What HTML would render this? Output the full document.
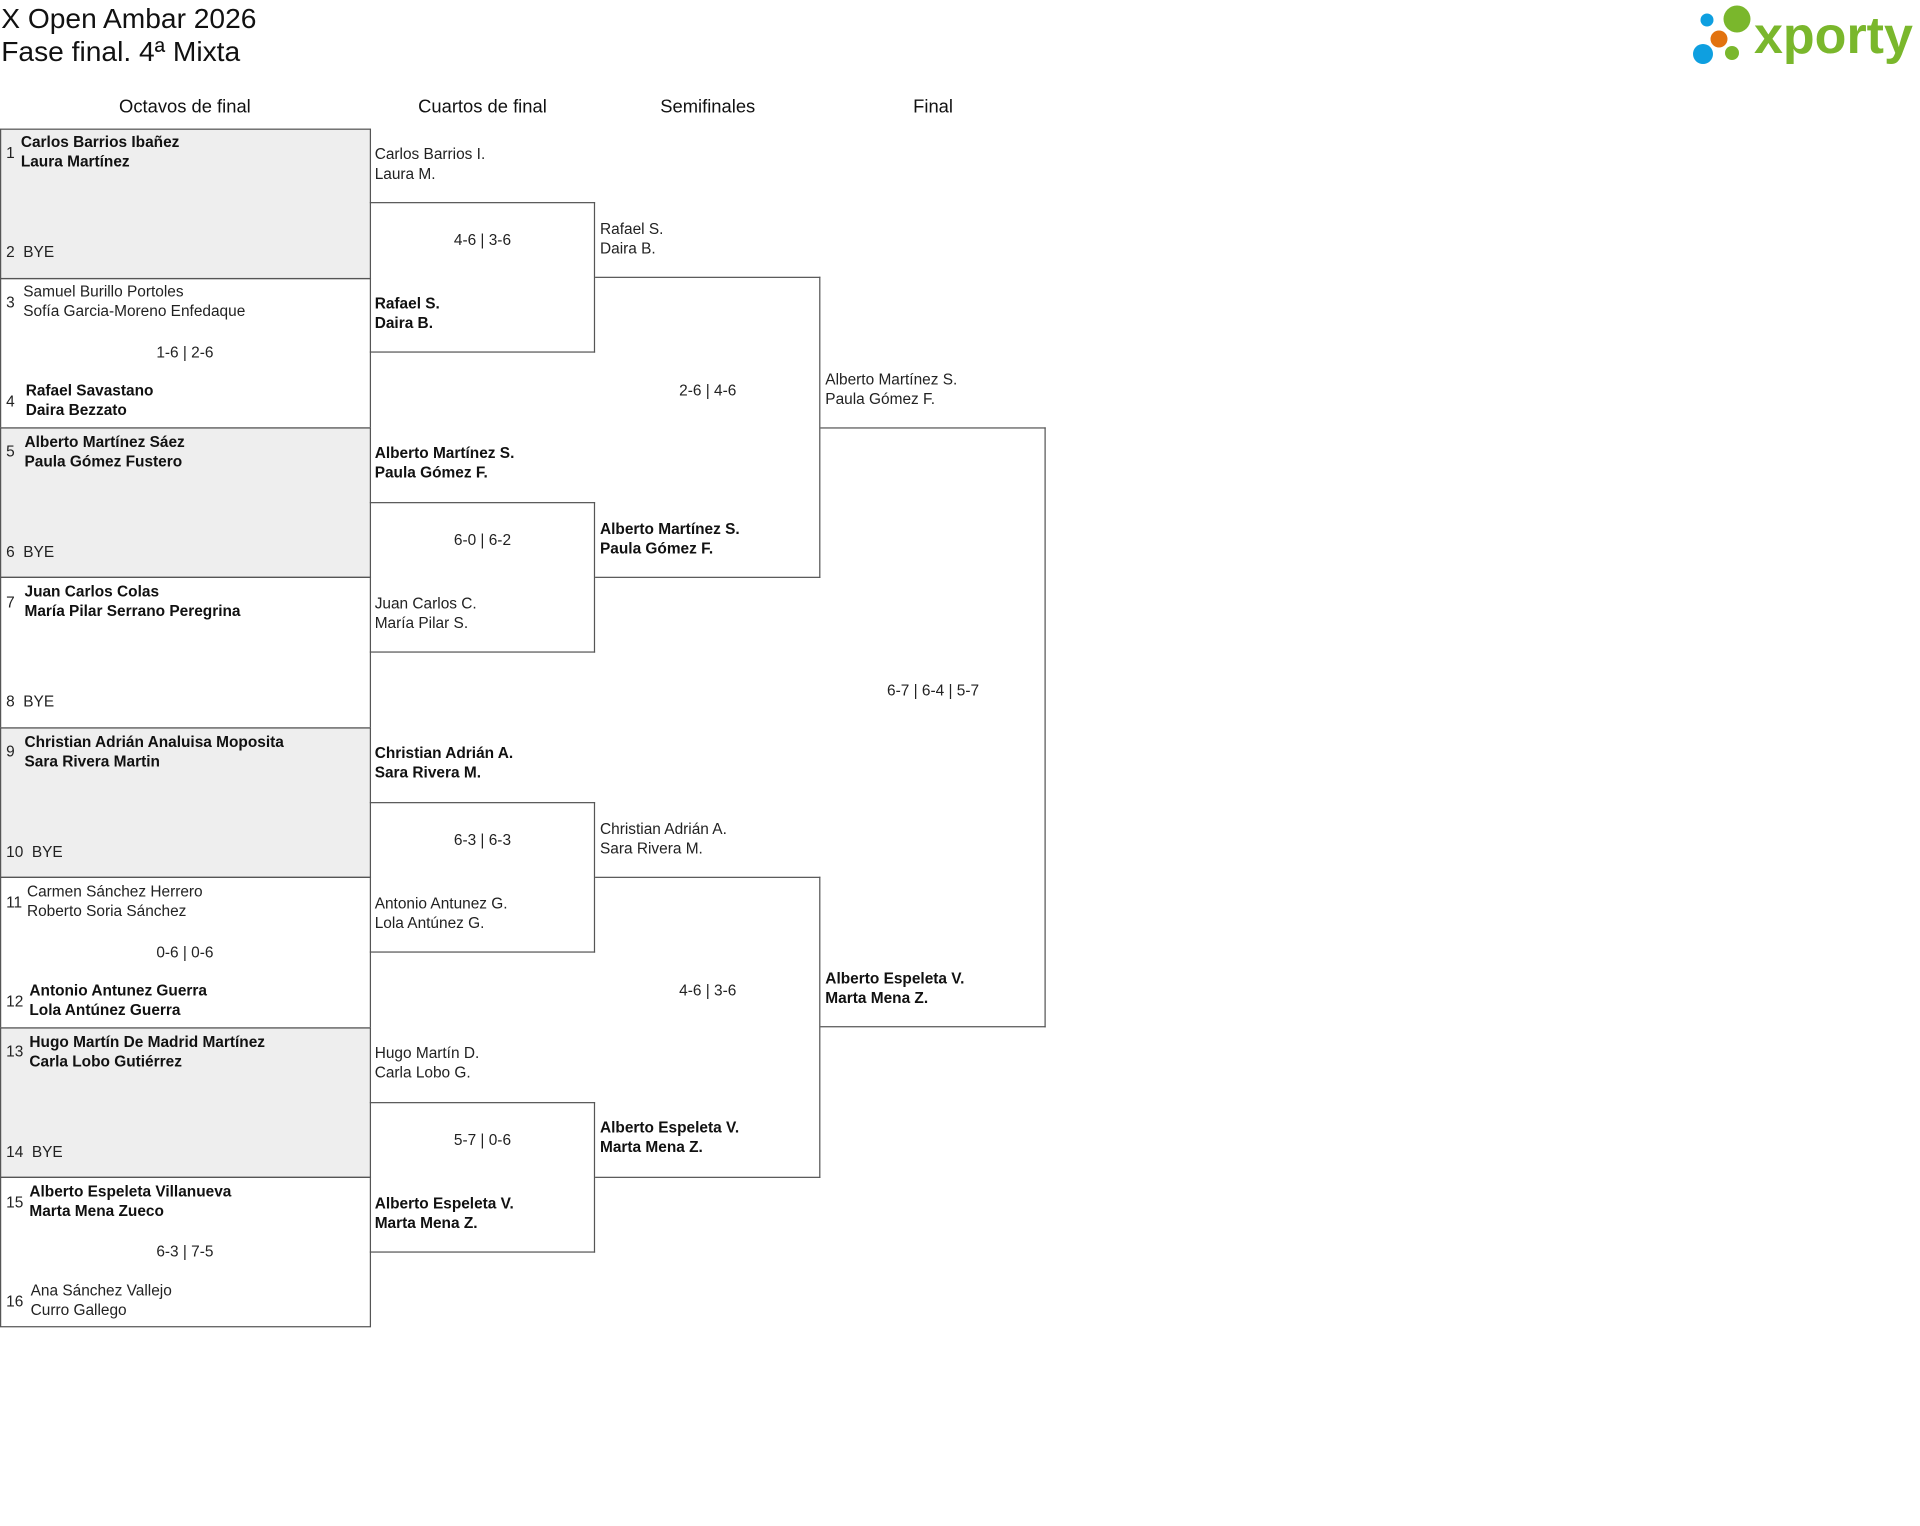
<!DOCTYPE html>
<html><head><meta charset="utf-8"><style>
html,body{margin:0;padding:0;background:#fff;}
body{width:1920px;height:1525px;overflow:hidden;position:relative;font-family:"Liberation Sans",sans-serif;color:#222;}
#c{position:absolute;left:0;top:0;width:1568px;height:1246px;transform:scale(1.22449);transform-origin:0 0;}
.a{position:absolute;white-space:nowrap;}
.t{font-size:23px;line-height:22px;color:#111;}
.h{font-size:15px;line-height:16px;transform:translateX(-50%);color:#111;}
.b{position:absolute;border:1px solid #555;box-sizing:border-box;}
.r{border-left:none;}
.g{background:#eeeeee;}
.n{font-size:12.6px;line-height:15.5px;}
.bo{font-weight:bold;color:#111;}
.s{font-size:12.6px;line-height:14px;transform:translateX(-50%);}
.num{font-size:12.6px;line-height:14px;}
</style></head><body>
<div id="c">
<div class="a t" style="left:1px;top:4px">X Open Ambar 2026</div>
<div class="a t" style="left:1px;top:31px">Fase final. 4ª Mixta</div>
<div class="a h" style="left:151px;top:80px">Octavos de final</div>
<div class="a h" style="left:394px;top:80px">Cuartos de final</div>
<div class="a h" style="left:578px;top:80px">Semifinales</div>
<div class="a h" style="left:762px;top:80px">Final</div>

<div class="b g" style="left:0;top:105px;width:303px;height:123px"></div>
<div class="b" style="left:0;top:227px;width:303px;height:123px"></div>
<div class="b g" style="left:0;top:349px;width:303px;height:123px"></div>
<div class="b" style="left:0;top:471px;width:303px;height:124px"></div>
<div class="b g" style="left:0;top:594px;width:303px;height:123px"></div>
<div class="b" style="left:0;top:716px;width:303px;height:124px"></div>
<div class="b g" style="left:0;top:839px;width:303px;height:123px"></div>
<div class="b" style="left:0;top:961px;width:303px;height:123px"></div>

<div class="b r" style="left:302px;top:165px;width:184px;height:123px"></div>
<div class="b r" style="left:302px;top:410px;width:184px;height:123px"></div>
<div class="b r" style="left:302px;top:655px;width:184px;height:123px"></div>
<div class="b r" style="left:302px;top:900px;width:184px;height:123px"></div>

<div class="b r" style="left:486px;top:226px;width:184px;height:246px"></div>
<div class="b r" style="left:486px;top:716px;width:184px;height:246px"></div>

<div class="b r" style="left:670px;top:349px;width:184px;height:490px"></div>

<div class="a num" style="left:5px;top:118px">1</div>
<div class="a n bo" style="left:17px;top:109px">Carlos Barrios Ibañez<br>Laura Martínez</div>
<div class="a num" style="left:5px;top:199px">2&nbsp;&nbsp;BYE</div>

<div class="a num" style="left:5px;top:240px">3</div>
<div class="a n" style="left:19px;top:231px">Samuel Burillo Portoles<br>Sofía Garcia-Moreno Enfedaque</div>
<div class="a s" style="left:151px;top:281px">1-6 | 2-6</div>
<div class="a num" style="left:5px;top:321px">4</div>
<div class="a n bo" style="left:21px;top:312px">Rafael Savastano<br>Daira Bezzato</div>

<div class="a num" style="left:5px;top:362px">5</div>
<div class="a n bo" style="left:20px;top:354px">Alberto Martínez Sáez<br>Paula Gómez Fustero</div>
<div class="a num" style="left:5px;top:444px">6&nbsp;&nbsp;BYE</div>

<div class="a num" style="left:5px;top:485px">7</div>
<div class="a n bo" style="left:20px;top:476px">Juan Carlos Colas<br>María Pilar Serrano Peregrina</div>
<div class="a num" style="left:5px;top:566px">8&nbsp;&nbsp;BYE</div>

<div class="a num" style="left:5px;top:607px">9</div>
<div class="a n bo" style="left:20px;top:599px">Christian Adrián Analuisa Moposita<br>Sara Rivera Martin</div>
<div class="a num" style="left:5px;top:689px">10&nbsp;&nbsp;BYE</div>

<div class="a num" style="left:5px;top:730px">11</div>
<div class="a n" style="left:22px;top:721px">Carmen Sánchez Herrero<br>Roberto Soria Sánchez</div>
<div class="a s" style="left:151px;top:771px">0-6 | 0-6</div>
<div class="a num" style="left:5px;top:811px">12</div>
<div class="a n bo" style="left:24px;top:802px">Antonio Antunez Guerra<br>Lola Antúnez Guerra</div>

<div class="a num" style="left:5px;top:852px">13</div>
<div class="a n bo" style="left:24px;top:844px">Hugo Martín De Madrid Martínez<br>Carla Lobo Gutiérrez</div>
<div class="a num" style="left:5px;top:934px">14&nbsp;&nbsp;BYE</div>

<div class="a num" style="left:5px;top:975px">15</div>
<div class="a n bo" style="left:24px;top:966px">Alberto Espeleta Villanueva<br>Marta Mena Zueco</div>
<div class="a s" style="left:151px;top:1015px">6-3 | 7-5</div>
<div class="a num" style="left:5px;top:1056px">16</div>
<div class="a n" style="left:25px;top:1047px">Ana Sánchez Vallejo<br>Curro Gallego</div>

<div class="a n" style="left:306px;top:119px">Carlos Barrios I.<br>Laura M.</div>
<div class="a s" style="left:394px;top:189px">4-6 | 3-6</div>
<div class="a n bo" style="left:306px;top:241px">Rafael S.<br>Daira B.</div>
<div class="a n bo" style="left:306px;top:363px">Alberto Martínez S.<br>Paula Gómez F.</div>
<div class="a s" style="left:394px;top:434px">6-0 | 6-2</div>
<div class="a n" style="left:306px;top:486px">Juan Carlos C.<br>María Pilar S.</div>
<div class="a n bo" style="left:306px;top:608px">Christian Adrián A.<br>Sara Rivera M.</div>
<div class="a s" style="left:394px;top:679px">6-3 | 6-3</div>
<div class="a n" style="left:306px;top:731px">Antonio Antunez G.<br>Lola Antúnez G.</div>
<div class="a n" style="left:306px;top:853px">Hugo Martín D.<br>Carla Lobo G.</div>
<div class="a s" style="left:394px;top:924px">5-7 | 0-6</div>
<div class="a n bo" style="left:306px;top:976px">Alberto Espeleta V.<br>Marta Mena Z.</div>

<div class="a n" style="left:490px;top:180px">Rafael S.<br>Daira B.</div>
<div class="a s" style="left:578px;top:312px">2-6 | 4-6</div>
<div class="a n bo" style="left:490px;top:425px">Alberto Martínez S.<br>Paula Gómez F.</div>
<div class="a n" style="left:490px;top:670px">Christian Adrián A.<br>Sara Rivera M.</div>
<div class="a s" style="left:578px;top:802px">4-6 | 3-6</div>
<div class="a n bo" style="left:490px;top:914px">Alberto Espeleta V.<br>Marta Mena Z.</div>

<div class="a n" style="left:674px;top:303px">Alberto Martínez S.<br>Paula Gómez F.</div>
<div class="a s" style="left:762px;top:557px">6-7 | 6-4 | 5-7</div>
<div class="a n bo" style="left:674px;top:792px">Alberto Espeleta V.<br>Marta Mena Z.</div>
</div>

<svg style="position:absolute;left:1680px;top:0" width="80" height="80">
<circle cx="27" cy="20" r="6.5" fill="#0e9fe0"/>
<circle cx="57" cy="19" r="13.5" fill="#7ab72c"/>
<circle cx="39" cy="39" r="8.5" fill="#e2720f"/>
<circle cx="23" cy="54" r="10" fill="#0e9fe0"/>
<circle cx="52" cy="53" r="7" fill="#7ab72c"/>
</svg>
<div class="a" style="left:1754px;top:10px;font-size:52px;line-height:52px;font-weight:bold;color:#7ab72c;">xporty</div>
</body></html>
